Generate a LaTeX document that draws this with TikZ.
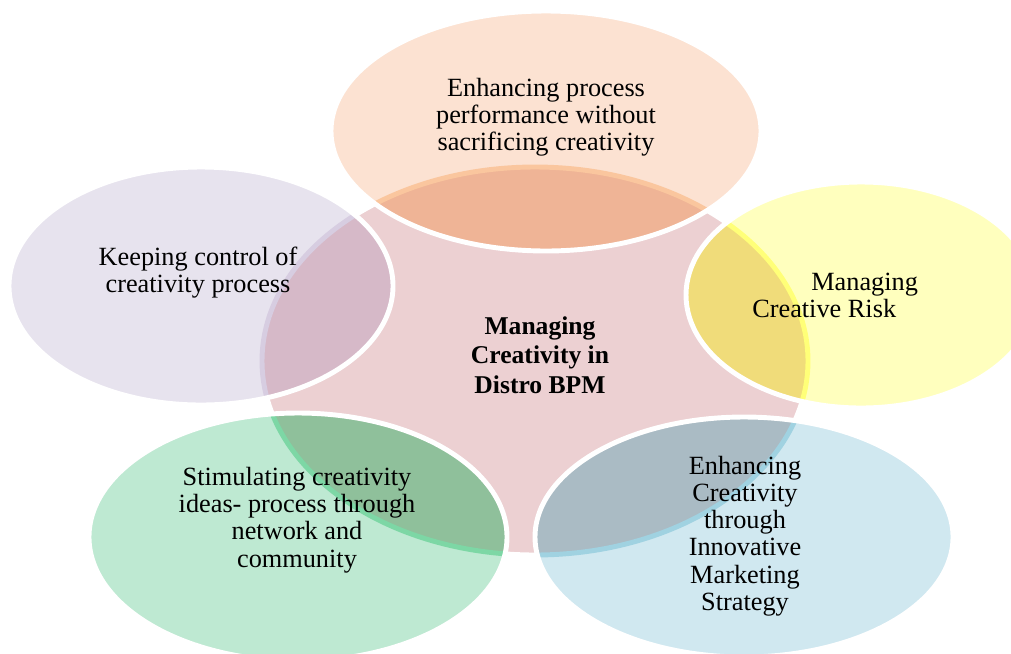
\documentclass[tikz,border=0pt]{standalone}
\usepackage{fontspec}
\setmainfont{Liberation Serif}
\definecolor{hubfill}{RGB}{236,208,210}
\definecolor{toplight}{RGB}{252,226,210}
\definecolor{topdark}{RGB}{239,180,150}
\definecolor{topline}{RGB}{250,198,158}
\definecolor{rightlight}{RGB}{255,255,190}
\definecolor{rightdark}{RGB}{240,220,122}
\definecolor{rightline}{RGB}{255,255,120}
\definecolor{brlight}{RGB}{208,232,240}
\definecolor{brdark}{RGB}{170,187,196}
\definecolor{brline}{RGB}{160,210,225}
\definecolor{bllight}{RGB}{190,233,210}
\definecolor{bldark}{RGB}{143,192,155}
\definecolor{blline}{RGB}{125,215,165}
\definecolor{leftlight}{RGB}{231,227,238}
\definecolor{leftdark}{RGB}{214,185,200}
\definecolor{leftline}{RGB}{215,205,225}
\begin{document}
\begin{tikzpicture}[x=0.025cm,y=-0.025cm,
    rim/.style={white,line width=3.5pt},
    label/.style={align=center,inner sep=0pt,
      font=\fontsize{18.7}{19.3}\selectfont}]
  \useasboundingbox (0,0) rectangle (1011,653);
  % hub
  \filldraw[hubfill,draw=white,line width=3.5pt]
    (535,361) ellipse [x radius=273,y radius=194];
  % top petal
  \fill[toplight] (546,131) ellipse [x radius=215,y radius=120];
  \begin{scope}
    \clip (546,131) ellipse [x radius=215,y radius=120];
    \filldraw[topdark,draw=topline,line width=3.5pt]
      (535,361) ellipse [x radius=273,y radius=194];
  \end{scope}
  \draw[rim] (546,131) ellipse [x radius=215,y radius=120];
  % right petal
  \fill[rightlight] (861,295) ellipse [x radius=175,y radius=113];
  \begin{scope}
    \clip (861,295) ellipse [x radius=175,y radius=113];
    \filldraw[rightdark,draw=rightline,line width=3.5pt]
      (535,361) ellipse [x radius=273,y radius=194];
  \end{scope}
  \draw[rim] (861,295) ellipse [x radius=175,y radius=113];
  % bottom right petal
  \fill[brlight] (744,537) ellipse [x radius=209,y radius=120];
  \begin{scope}
    \clip (744,537) ellipse [x radius=209,y radius=120];
    \filldraw[brdark,draw=brline,line width=3.5pt]
      (535,361) ellipse [x radius=273,y radius=194];
  \end{scope}
  \draw[rim] (744,537) ellipse [x radius=209,y radius=120];
  % bottom left petal
  \fill[bllight] (298,537) ellipse [x radius=209,y radius=124];
  \begin{scope}
    \clip (298,537) ellipse [x radius=209,y radius=124];
    \filldraw[bldark,draw=blline,line width=3.5pt]
      (535,361) ellipse [x radius=273,y radius=194];
  \end{scope}
  \draw[rim] (298,537) ellipse [x radius=209,y radius=124];
  % left petal
  \fill[leftlight] (201,286) ellipse [x radius=192,y radius=119];
  \begin{scope}
    \clip (201,286) ellipse [x radius=192,y radius=119];
    \filldraw[leftdark,draw=leftline,line width=3.5pt]
      (535,361) ellipse [x radius=273,y radius=194];
  \end{scope}
  \draw[rim] (201,286) ellipse [x radius=192,y radius=119];
  % texts
  \node[label,font=\bfseries\fontsize{18.2}{21}\selectfont] (hub) at (540,355)
    {Managing\\Creativity in\\Distro BPM};
  \node[label] (top) at (546,117)
    {Enhancing process\\performance without\\sacrificing creativity};
  \node[label,align=left,anchor=west] (right) at (752,295)
    {\hspace{42pt}Managing\\Creative Risk};
  \node[label] (bottomright) at (745,536)
    {Enhancing\\Creativity\\through\\Innovative\\Marketing\\Strategy};
  \node[label] (bottomleft) at (297,520)
    {Stimulating creativity\\ideas- process through\\network and\\community};
  \node[label] (left) at (198,273)
    {Keeping control of\\creativity process};
\end{tikzpicture}
\end{document}
